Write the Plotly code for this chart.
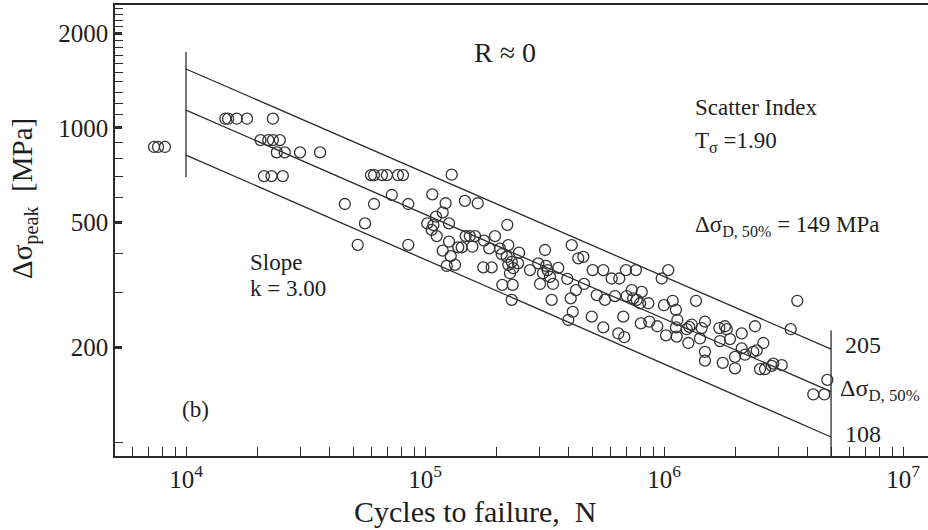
import math
import plotly.graph_objects as go

# ---------------- data ----------------
cycles = [
    7350, 7640, 8160,
    14600, 15000, 16300, 18000, 23100,
    20500, 22100, 23100, 24700,
    24000, 25900, 30000, 36400,
    21200, 22800, 25400, 46200,
    59400, 61200, 66100, 69300, 77100, 80900, 129300,
    72600, 107300, 146900, 122000, 61200, 85100, 118600, 111200,
    102200, 106600, 126000, 108400, 56100, 111900, 126000, 52300,
    85100, 118600, 128100, 123300, 133500, 137800, 142400,
    148000, 154000, 162000, 166200, 221000, 196300, 176600, 157800,
    185800, 206000, 223100, 247400, 209400, 223100, 234200, 226800,
    175400, 190100, 210600, 232800, 230600, 275000, 298000, 317800,
    320800, 326000, 333400, 302900, 343300, 361200, 338900, 394000,
    411000, 459600, 428200, 407000, 462800, 415000, 397800, 498500,
    503000, 219700, 230600, 245000, 437900, 311700,
    1042000, 978000, 693000, 763000, 604000, 650000, 557000, 523000,
    566000, 624000, 698000, 733000, 744000, 769000, 807000, 794000,
    860000, 675500, 557000, 644000, 682000, 800000, 868000, 937000,
    1000000, 1122000, 1137000, 1087000, 1122000, 1020000, 1276000,
    1245000, 1306000, 1130000, 1361000, 1264000, 1438000, 1484000,
    1414000, 1484000, 1484000, 1704000, 1800000, 1715000, 1761000,
    3612000, 3390000, 2403000, 2114000, 1830000, 1889000, 2114000,
    2364000, 2443000, 2604000, 1982000, 1982000, 2522000, 2646000,
    2822000, 2866000, 3108000, 4824000, 4214000, 4686000, 2183000,
]
stress = [
    870, 870, 870,
    1070, 1070, 1070, 1070, 1070,
    915, 915, 915, 915,
    836, 836, 836, 836,
    703, 703, 703, 573,
    708, 708, 708, 708, 708, 708, 710,
    612, 615, 586, 576, 573, 573, 539, 522,
    497, 474, 497, 491, 497, 453, 435, 425,
    425, 407, 391, 364, 367, 417, 417,
    453, 453, 453, 576, 492, 453, 438, 419,
    414, 413, 424, 401, 397, 367, 358, 345,
    360, 360, 317, 317, 284, 353, 371, 409,
    364, 353, 336, 319, 319, 359, 284, 331,
    424, 389, 305, 287, 319, 260, 245, 251,
    353, 389, 375, 371, 385, 345,
    353, 332, 353, 353, 332, 332, 353, 294,
    284, 292, 292, 305, 287, 284, 301, 277,
    277, 251, 232, 222, 216, 239, 242, 234,
    273, 264, 245, 282, 232, 219, 233,
    229, 237, 217, 282, 207, 231, 242,
    214, 194, 182, 231, 234, 210, 179,
    282, 229, 234, 222, 229, 213, 199,
    194, 196, 207, 187, 172, 171, 171,
    175, 178, 176, 158, 142, 142, 190,
]

# scatter band (slope k = 3.00) end points, as drawn
band_N = [1e4, 5e6]
upper_S = [1540, 198]
mean_S = [1140, 145]
lower_S = [820, 104]

# vertical reference lines
left_N = [1e4, 1e4]
left_S = [698, 1744]
right_N = [5e6, 5e6]
right_S = [80, 227]

# ticks
x_major = [1e4, 1e5, 1e6, 1e7]
x_labels = ["10<sup>4</sup>", "10<sup>5</sup>", "10<sup>6</sup>", "10<sup>7</sup>"]
x_minor = [m * 10 ** e for e in (3, 4, 5, 6) for m in range(2, 10)
           if 5000 < m * 10 ** e < 1.3e7]
y_major = [200, 500, 1000, 2000]
y_labels = ["200", "500", "1000", "2000"]
y_minor = [100, 300, 400, 600, 700, 800, 900,
           1100, 1200, 1300, 1400, 1500, 1600, 1700, 1800, 1900,
           2100, 2200, 2300, 2400]

# ---------------- figure ----------------
LINE = "#2b2b2b"
TXT = "#1e1e1e"
SERIF = "Liberation Serif, Times New Roman, serif"

fig = go.Figure()
for ys in (upper_S, mean_S, lower_S):
    fig.add_trace(go.Scatter(x=band_N, y=ys, mode="lines",
                             line=dict(color=LINE, width=1.3), hoverinfo="skip"))
fig.add_trace(go.Scatter(x=left_N, y=left_S, mode="lines",
                         line=dict(color=LINE, width=1.3), hoverinfo="skip"))
fig.add_trace(go.Scatter(x=right_N, y=right_S, mode="lines",
                         line=dict(color=LINE, width=1.3), hoverinfo="skip"))
fig.add_trace(go.Scatter(x=cycles, y=stress, mode="markers",
                         marker=dict(symbol="circle-open", size=11, color="#333333",
                                     line=dict(width=1.3, color="#333333"))))

L, R, T, B = 115, 0, 5, 74
W, H = 928, 530
PW, PH = W - L - R, H - T - B


def px(x):
    return (x - L) / PW


def py(y):
    return (H - B - y) / PH


def ann(text, x, y, size, xanchor="left", angle=0):
    fig.add_annotation(text=text, x=px(x), y=py(y), xref="paper", yref="paper",
                       xanchor=xanchor, yanchor="middle", showarrow=False,
                       textangle=angle, font=dict(family=SERIF, size=size, color=TXT))


ann("R \u2248 0", 505, 52, 28, "center")
ann("Scatter Index", 693, 107, 23)
ann("T<sub>\u03c3</sub> =1.90", 693, 142, 23)
ann("\u0394\u03c3<sub>D, 50%</sub> = 149 MPa", 693, 226, 23)
ann("Slope", 248, 262, 23)
ann("k = 3.00", 248, 289, 23)
ann("(b)", 180, 409, 23)
ann("205", 843, 345, 24)
ann("\u0394\u03c3<sub>D, 50%</sub>", 838, 390, 24)
ann("108", 843, 434, 24)
ann("Cycles to failure,\u00a0\u00a0N", 475, 511, 30, "center")
ann("\u0394\u03c3<sub>peak</sub>\u00a0\u00a0[MPa]", 24, 199, 29, "center", -90)

fig.update_layout(
    width=W, height=H,
    margin=dict(l=L, r=R, t=T, b=B),
    paper_bgcolor="white", plot_bgcolor="white",
    showlegend=False,
    font=dict(family=SERIF, color=TXT),
    xaxis=dict(type="log", range=[math.log10(5046), 7.1046],
               showline=True, linecolor=LINE, linewidth=1.5, mirror=True,
               showgrid=False, zeroline=False,
               ticks="inside", tickvals=x_major, ticktext=x_labels,
               ticklen=9, tickwidth=1.2, tickcolor=LINE,
               tickfont=dict(family=SERIF, size=25, color=TXT),
               minor=dict(tickvals=x_minor, ticks="inside", ticklen=9,
                          tickwidth=1, tickcolor=LINE, showgrid=False)),
    yaxis=dict(type="log", range=[1.9566, 3.391],
               showline=True, linecolor=LINE, linewidth=1.5,
               showgrid=False, zeroline=False,
               ticks="inside", tickvals=y_major, ticktext=y_labels,
               ticklen=7, tickwidth=2.5, tickcolor=LINE,
               tickfont=dict(family=SERIF, size=25, color=TXT),
               minor=dict(tickvals=y_minor, ticks="inside", ticklen=8,
                          tickwidth=1, tickcolor=LINE, showgrid=False)),
)

fig.write_html("out.html")
